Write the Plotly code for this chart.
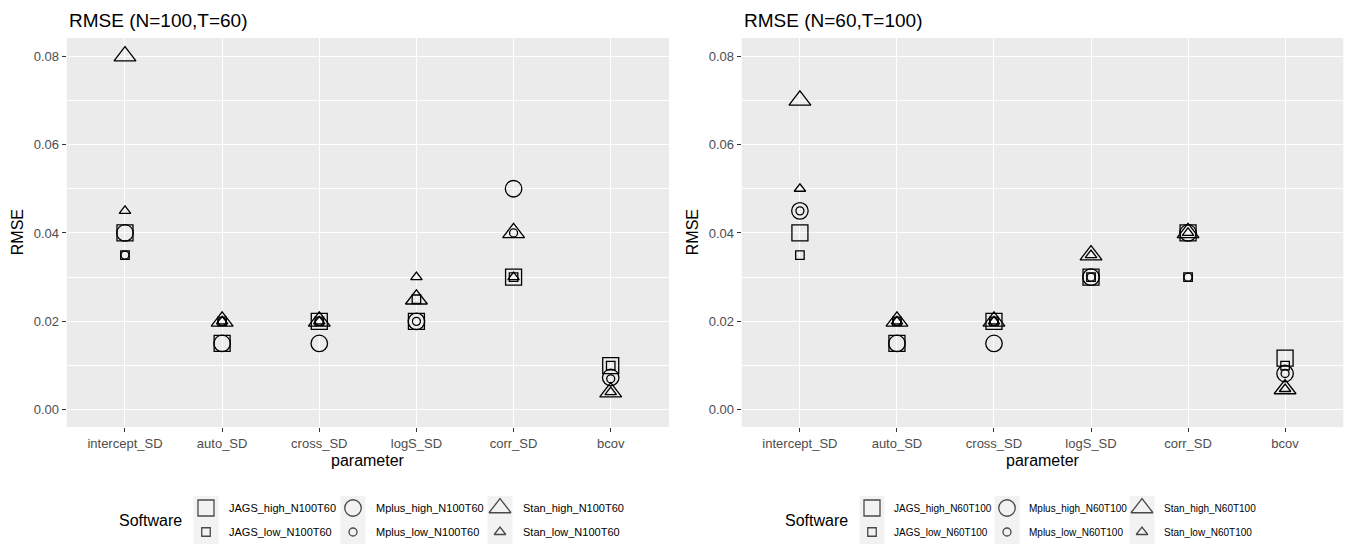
import plotly.graph_objects as go

W, H = 1349, 549

# ---------------- data ----------------
params = ['intercept_SD', 'auto_SD', 'cross_SD', 'logS_SD', 'corr_SD', 'bcov']
y_ticks = [0.00, 0.02, 0.04, 0.06, 0.08]
y_tick_labels = ['0.00', '0.02', '0.04', '0.06', '0.08']

# Panel 1: N=100, T=60
jags_high_n100 = [0.040, 0.015, 0.020, 0.020, 0.030, 0.0100]
jags_low_n100 = [0.035, 0.020, 0.020, 0.025, 0.030, 0.0100]
mplus_high_n100 = [0.040, 0.015, 0.015, 0.020, 0.050, 0.0073]
mplus_low_n100 = [0.035, 0.020, 0.020, 0.020, 0.040, 0.0070]
stan_high_n100 = [0.080, 0.020, 0.020, 0.025, 0.040, 0.0040]
stan_low_n100 = [0.045, 0.020, 0.020, 0.030, 0.030, 0.0040]

# Panel 2: N=60, T=100
jags_high_n60 = [0.040, 0.015, 0.020, 0.030, 0.040, 0.0117]
jags_low_n60 = [0.035, 0.020, 0.020, 0.030, 0.030, 0.0100]
mplus_high_n60 = [0.045, 0.015, 0.015, 0.030, 0.040, 0.0082]
mplus_low_n60 = [0.045, 0.020, 0.020, 0.030, 0.030, 0.0082]
stan_high_n60 = [0.070, 0.020, 0.020, 0.035, 0.040, 0.0047]
stan_low_n60 = [0.050, 0.020, 0.020, 0.035, 0.040, 0.0047]

series_keys = ['JAGS_high', 'JAGS_low', 'Mplus_high', 'Mplus_low', 'Stan_high', 'Stan_low']
names_n100 = ['JAGS_high_N100T60', 'JAGS_low_N100T60', 'Mplus_high_N100T60',
              'Mplus_low_N100T60', 'Stan_high_N100T60', 'Stan_low_N100T60']
names_n60 = ['JAGS_high_N60T100', 'JAGS_low_N60T100', 'Mplus_high_N60T100',
             'Mplus_low_N60T100', 'Stan_high_N60T100', 'Stan_low_N60T100']

panel1_values = [jags_high_n100, jags_low_n100, mplus_high_n100,
                 mplus_low_n100, stan_high_n100, stan_low_n100]
panel2_values = [jags_high_n60, jags_low_n60, mplus_high_n60,
                 mplus_low_n60, stan_high_n60, stan_low_n60]

# ---------------- styles ----------------
FONT = 'Liberation Sans, Arial, Helvetica, sans-serif'
PANEL_BG = '#EBEBEB'
TICK_COL = '#4D4D4D'
LW = 1.3
STYLE = {
    'JAGS_high': ('square-open', 16),
    'JAGS_low': ('square-open', 8.5),
    'Mplus_high': ('circle-open', 16.5),
    'Mplus_low': ('circle-open', 8),
    'Stan_high': ('triangle-up-open', 19),
    'Stan_low': ('triangle-up-open', 10),
}

# panel geometry (pixels)
P1 = (66.7, 669.0)
P2 = (741.7, 1343.3)
PY = (38.0, 427.0)


def px(x):
    return x / W


def py(y):
    return 1 - y / H


fig = go.Figure()

for vals_list, xa, ya in [(panel1_values, 'x', 'y'), (panel2_values, 'x2', 'y2')]:
    for key, vals in zip(series_keys, vals_list):
        sym, size = STYLE[key]
        fig.add_trace(go.Scatter(
            x=params, y=vals, mode='markers', xaxis=xa, yaxis=ya,
            showlegend=False, hoverinfo='skip',
            marker=dict(symbol=sym, size=size, color='black',
                        line=dict(color='black', width=LW))))

# legend markers on an overlay pixel axis
legend_specs = [
    dict(names=names_n100, title_right=184, keys_x=[206, 353, 500], dx=21, fsize=11),
    dict(names=names_n60, title_right=850, keys_x=[872, 1007, 1142], dx=20, fsize=10),
]
rows_y = {'high': 508, 'low': 532}
soft_col = {'JAGS': 0, 'Mplus': 1, 'Stan': 2}

shapes = []
annotations = []

for spec in legend_specs:
    lx, ly, syms, sizes = [], [], [], []
    for key, nm in zip(series_keys, spec['names']):
        soft, lvl = key.split('_')
        cx = spec['keys_x'][soft_col[soft]]
        cy = rows_y[lvl]
        sym, size = STYLE[key]
        lx.append(cx)
        ly.append(cy)
        syms.append(sym)
        sizes.append(size)
        shapes.append(dict(type='rect', xref='paper', yref='paper',
                           x0=px(cx - 12.5), x1=px(cx + 12.5),
                           y0=py(cy + 12), y1=py(cy - 12),
                           fillcolor='#F2F2F2', line=dict(width=0), layer='below'))
        annotations.append(dict(text=nm, x=px(cx + spec['dx']), y=py(cy),
                                xref='paper', yref='paper', xanchor='left', yanchor='middle',
                                showarrow=False, font=dict(family=FONT, size=spec['fsize'], color='black')))
    fig.add_trace(go.Scatter(
        x=lx, y=ly, mode='markers', xaxis='x3', yaxis='y3', showlegend=False,
        hoverinfo='skip',
        marker=dict(symbol=syms, size=sizes, color='black',
                    line=dict(color='black', width=LW))))
    annotations.append(dict(text='Software', x=px(spec['title_right']), y=py(520),
                            xref='paper', yref='paper', xanchor='right', yanchor='middle',
                            showarrow=False, font=dict(family=FONT, size=16, color='black')))

# panel backgrounds
for xa, ya in [('x', 'y'), ('x2', 'y2')]:
    shapes.append(dict(type='rect', xref=f'{xa} domain', yref=f'{ya} domain',
                       x0=0, x1=1, y0=0, y1=1, fillcolor=PANEL_BG,
                       line=dict(width=0), layer='below'))

# titles and axis titles
for (x0, x1), title in [(P1, 'RMSE (N=100,T=60)'), (P2, 'RMSE (N=60,T=100)')]:
    annotations.append(dict(text=title, x=px(x0), y=py(20), xref='paper', yref='paper',
                            xanchor='left', yanchor='middle', showarrow=False,
                            font=dict(family=FONT, size=19, color='black')))
    annotations.append(dict(text='parameter', x=px((x0 + x1) / 2), y=py(460),
                            xref='paper', yref='paper', xanchor='center', yanchor='middle',
                            showarrow=False, font=dict(family=FONT, size=16, color='black')))
    annotations.append(dict(text='RMSE', x=px(x0 - 49), y=py((PY[0] + PY[1]) / 2),
                            xref='paper', yref='paper', xanchor='center', yanchor='middle',
                            textangle=-90, showarrow=False,
                            font=dict(family=FONT, size=16, color='black')))


def xaxis_cfg(dom):
    return dict(domain=dom, type='category', categoryorder='array', categoryarray=params,
                range=[-0.6, 5.6], showgrid=True, gridcolor='white', gridwidth=1.3,
                zeroline=False, showline=False, ticks='outside', ticklen=4,
                tickcolor='#333333', tickwidth=1,
                tickfont=dict(family=FONT, size=13, color=TICK_COL), fixedrange=True)


def yaxis_cfg(anchor):
    return dict(domain=[py(PY[1]), py(PY[0])], anchor=anchor, range=[-0.0039, 0.0841],
                tickvals=y_ticks, ticktext=y_tick_labels,
                showgrid=True, gridcolor='white', gridwidth=1.3,
                minor=dict(tickvals=[0.01, 0.03, 0.05, 0.07], showgrid=True,
                           gridcolor='white', gridwidth=0.6, ticks=''),
                zeroline=False, showline=False, ticks='outside', ticklen=4,
                tickcolor='#333333', tickwidth=1,
                tickfont=dict(family=FONT, size=13, color=TICK_COL), fixedrange=True)


fig.update_layout(
    width=W, height=H,
    margin=dict(l=0, r=0, t=0, b=0),
    paper_bgcolor='white', plot_bgcolor='rgba(0,0,0,0)',
    xaxis=dict(xaxis_cfg([px(P1[0]), px(P1[1])]), anchor='y'),
    yaxis=yaxis_cfg('x'),
    xaxis2=dict(xaxis_cfg([px(P2[0]), px(P2[1])]), anchor='y2'),
    yaxis2=yaxis_cfg('x2'),
    xaxis3=dict(domain=[0, 1], range=[0, W], visible=False, anchor='y3', fixedrange=True),
    yaxis3=dict(domain=[0, 1], range=[H, 0], visible=False, anchor='x3', fixedrange=True),
    shapes=shapes, annotations=annotations,
    showlegend=False,
)

fig.write_html('out.html')
